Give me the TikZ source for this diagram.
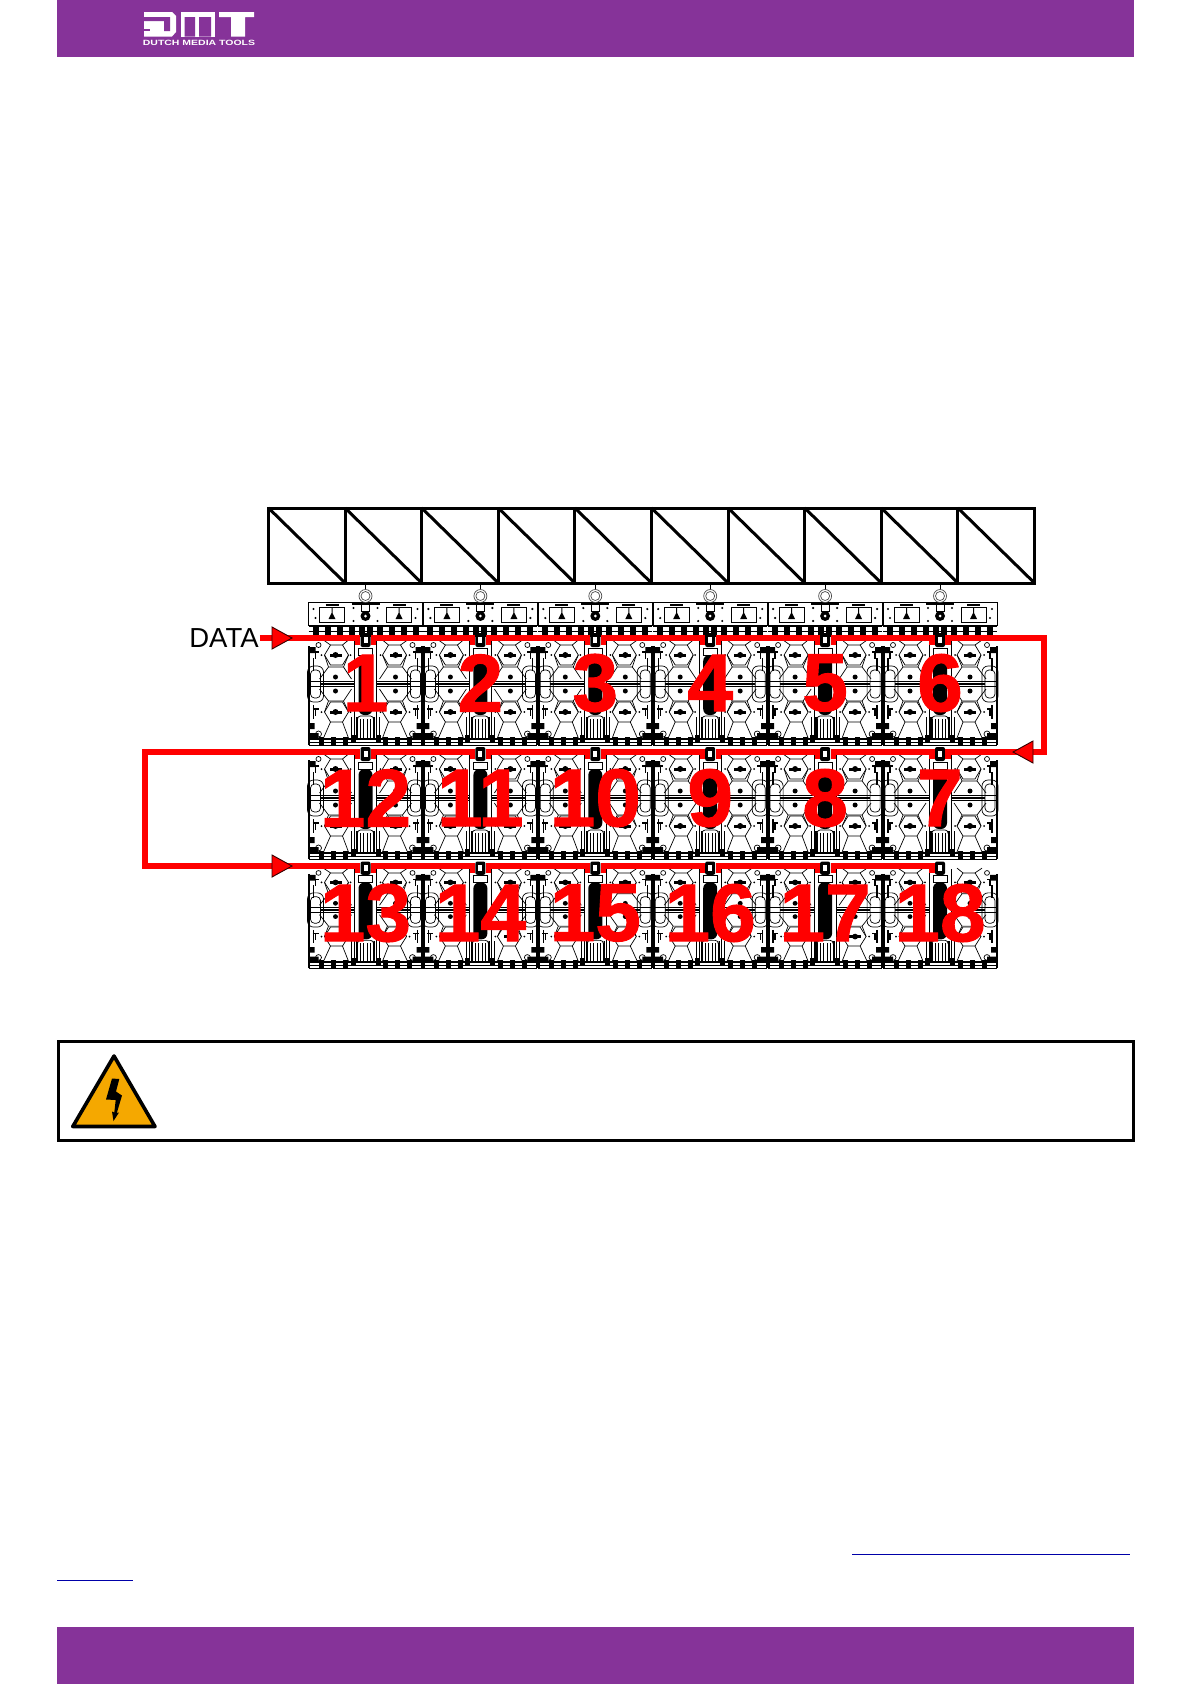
\documentclass[tikz,border=0pt]{standalone}
\usepackage{fontspec}
\setmainfont{Liberation Sans}
\newfontfamily\numfont[FakeBold=1.2]{Liberation Sans Bold}
\definecolor{dmtpurple}{HTML}{863399}
\definecolor{warnorange}{HTML}{F5A800}
\definecolor{linkblue}{HTML}{0000A8}
\tikzset{
	thinline/.style = {line width=0.7pt, black},
	midline/.style = {line width=1.3pt, black},
	wire/.style = {line width=5.2pt, red, line join=miter},
	wirehead/.style = {fill=red, draw=black!80!red, line width=0.9pt, line join=miter},
	numtext/.style = {red, inner sep=0pt, font=\fontsize{82}{82}\numfont},
}
% one LED panel, (0,0) is the top centre of its body
\newcommand{\ledpanel}[3]{%
	\begin{scope}[shift={(#1,#2)},yscale=#3]
		\foreach \sx in {-1,1} {
			\begin{scope}[xscale=\sx]
				\draw[line width=2pt] (-56.5,3) -- (-56.5,102);
				\draw[thinline] (-11,-2) -- (-11,98) (-14,74) -- (-14,96);
				\draw[thinline,rounded corners=6pt] (-58,23) rectangle (-42,59);
				\draw[thinline,rounded corners=4pt] (-55,27) rectangle (-45,55);
				\draw[thinline] (-57,38.5) -- (-11,38.5) (-57,43.5) -- (-11,43.5);
				\fill (-45,40) rectangle (-11,42);
				\foreach \hy in {12,69} {
					\draw[thinline] (-41,\hy) -- (-35,\hy-10) -- (-23,\hy-10) -- (-17,\hy) -- (-23,\hy+10) -- (-35,\hy+10) -- cycle;
					\fill (-36,\hy-1.5) rectangle (-24,\hy+1.5);
					\fill (-30,\hy) circle (3);
					\fill (-44,\hy) circle (1);
					\fill (-15,\hy) circle (1);
					\draw[midline] (-53,\hy-3) -- (-47,\hy-3) (-50,\hy-3) -- (-50,\hy+4);
				}
				% web between the hexagons
				\draw[thinline] (-46,36) -- (-37,24) -- (-22,24) -- (-14,36)
					(-46,46) -- (-37,58) -- (-22,58) -- (-14,46)
					(-41,12) -- (-37,24) (-17,12) -- (-22,24)
					(-41,69) -- (-37,58) (-17,69) -- (-22,58)
					(-35,79) -- (-42,95) (-23,79) -- (-17,95)
					(-35,2) -- (-42,-3) (-23,2) -- (-17,-3);
				\fill (-30,34) circle (2.5) (-30,48) circle (2.5);
				% clutter at the edges
				\fill (-56,4) rectangle (-50,10) (-56,80) rectangle (-51,86) (-56,90) rectangle (-47,96);
				\draw[midline] (-52,15) -- (-52,28) (-52,62) -- (-52,76);
				\draw[thinline] (-47,2) circle (2.5) (-47,91) circle (3);
				\foreach \gx in {2,5,8}
					\draw[line width=1pt] (-\gx,76) -- (-\gx,95);
				\draw[midline] (-9,74) -- (-9,96);
				\fill (-15,92) rectangle (-10,100);
				\foreach \bx in {20,32,44}
					\fill (-\bx-2.5,94) rectangle (-\bx+2.5,103);
			\end{scope}
		}
		\draw[thinline] (-7,5) rectangle (7,12);
		\fill[rounded corners=6pt] (-7,12) rectangle (7,72);
		\draw[thinline,rounded corners=3pt] (-8,74) -- (-8,73) -- (8,73) -- (8,74);
		\fill[rounded corners=2pt] (-5,-10) rectangle (5,4);
		\fill[white] (-2,-6) rectangle (2,0);
		% bottom band
		\draw[line width=2.4pt] (-57,96) -- (57,96);
		\draw[line width=1.4pt] (-57,102.5) -- (57,102.5);
		\draw[thinline] (-57,99) -- (57,99);
	\end{scope}%
}
% plate with the eye on top of a column
\newcommand{\topplate}[1]{%
	\begin{scope}[shift={(#1,602)}]
		\draw[thinline] (-57,0) rectangle (57,23);
		\foreach \sx in {-1,1} {
			\begin{scope}[xscale=\sx]
				\draw[thinline] (-46,5) -- (-46,20) -- (-21,20) -- (-21,5) -- cycle;
				\draw[midline] (-40,3) -- (-27,3);
				\fill (-34,6) -- (-34,11) -- (-37,17) -- (-30,17) -- (-33,11) -- (-33,6) -- cycle;
				\fill (-52,7) circle (1.2) (-50,16) circle (1.2);
				\fill (-12,6) circle (1.2) (-12,19) circle (1.2);
				\foreach \bx in {4,14,26,38,50}
					\fill (-\bx-3,25) rectangle (-\bx+3,33);
			\end{scope}
		}
		\draw[midline] (-14,2) -- (14,2);
		\draw[thinline] (-4,2) rectangle (4,9);
		\fill (0,14) circle (5);
		\fill[white] (0,14) circle (1.5);
		\draw[line width=1.6pt] (-57,24) -- (57,24);
		\draw[line width=1.6pt] (-57,34) -- (57,34);
		\draw[thinline] (-57,29) -- (57,29);
		\draw[thinline] (0,-19) -- (0,-12.5) (0,0.5) -- (0,2);
		\draw[thinline,black!70] (0,-6) circle (6.5);
		\draw[thinline,black!70] (0,-6) circle (4.5);
	\end{scope}%
}
\begin{document}
\begin{tikzpicture}[x=1pt,y=-1pt]
	\useasboundingbox (0,0) rectangle (1191,1684);
	% header and footer
	\fill[dmtpurple] (57,0) rectangle (1134,57);
	\fill[dmtpurple] (57,1626.5) rectangle (1134,1684);
	% logo
	\fill[white] (144,12) -- (172,12) -- (176,16) -- (176,32) -- (172,36.5) -- (144,36.5) -- cycle;
	\fill[dmtpurple] (144,17) -- (170,17) -- (170,31) -- (164,31) -- (164,21) -- (144,21) -- cycle;
	\fill[dmtpurple] (144,29) rectangle (150,31);
	\fill[white] (181,12) rectangle (215,36.5);
	\fill[dmtpurple] (184.5,17) rectangle (195,36.5) (199,17) rectangle (211,36.5);
	\fill[white] (219,12) rectangle (254,17) (231,17) rectangle (245,36.5);
	\node[white,inner sep=0pt,font=\fontsize{7.6}{7.6}\selectfont\bfseries,xscale=1.38,transform shape] (logotext) at (199,43.2) {DUTCH MEDIA TOOLS};
	% truss
	\draw[line width=3pt,line join=miter] (268.5,508) rectangle (1034.5,583);
	\foreach \i in {0,...,9} {
		\draw[line width=3pt] (268.5+76.6*\i,508) -- (268.5+76.6*\i+76.6,583);
		\draw[line width=3pt] (268.5+76.6*\i,508) -- (268.5+76.6*\i,583);
	}
	% panels
	\foreach \c in {1,...,6} {
		\pgfmathsetmacro{\cx}{365.5+114.9*(\c-1)}
		\topplate{\cx}
		\ledpanel{\cx}{643}{1}
		\ledpanel{\cx}{757}{1}
		\ledpanel{\cx}{871}{0.95}
		\foreach \r/\wy in {1/638,2/752,3/866} {
			\coordinate (a\r\c) at (\cx+8,\wy+7);
			\coordinate (b\r\c) at (\cx-8,\wy+7);
		}
	}
	% data wire
	\node[inner sep=1pt,font=\fontsize{27.5}{27.5}\selectfont] (data) at (224,638) {DATA};
	\coordinate (loopr) at (1044,752);
	\coordinate (loopl) at (145,752);
	\coordinate (loopb) at (145,866);
	\draw[wire] (data.east) -| (b11);
	\foreach \r in {1,2,3}
		\foreach \c/\d in {1/2,2/3,3/4,4/5,5/6}
			\draw[wire] (a\r\c) -- ++(0,-7) -| (b\r\d);
	\draw[wire] (a16) -- ++(0,-7) -| (loopr) -| (a26);
	\draw[wire] (b21) -- ++(0,-7) -- (loopl) -- (loopb) -| (b31);
	\foreach \tx/\ty/\dd in {272/638/1,272/866/1,1033/752/-1}
		\draw[wirehead] (\tx,\ty-11) -- (\tx+20*\dd,\ty) -- (\tx,\ty+11) -- cycle;
	% numbers
	\foreach \n/\c in {1/1,2/2,3/3,4/4,5/5,6/6}
		\node[numtext] (n\n) at (365.5+114.9*\c-114.9,683) {\n};
	\foreach \n/\c in {12/1,11/2,10/3,9/4,8/5,7/6}
		\node[numtext] (n\n) at (365.5+114.9*\c-114.9,798) {\n};
	\foreach \n/\c in {13/1,14/2,15/3,16/4,17/5,18/6}
		\node[numtext] (n\n) at (365.5+114.9*\c-114.9,913) {\n};
	% warning box
	\draw[line width=3pt] (58,1041.5) rectangle (1133,1140);
	\draw[fill=warnorange,line width=3.6pt,line join=round] (114,1056) -- (155,1126.5) -- (72.8,1126.5) -- cycle;
	\fill (112,1078.5) -- (119.3,1079) -- (116,1091.5) -- (122,1095.5) -- (116.8,1113) -- (119,1112.5) -- (113.5,1121) -- (112,1111.5) -- (114.3,1112.5) -- (115.7,1100) -- (106,1099.5) -- cycle;
	% links
	\draw[linkblue,line width=1pt] (852,1554.5) -- (1130,1554.5);
	\draw[linkblue,line width=1pt] (57,1580.5) -- (133,1580.5);
\end{tikzpicture}
\end{document}
